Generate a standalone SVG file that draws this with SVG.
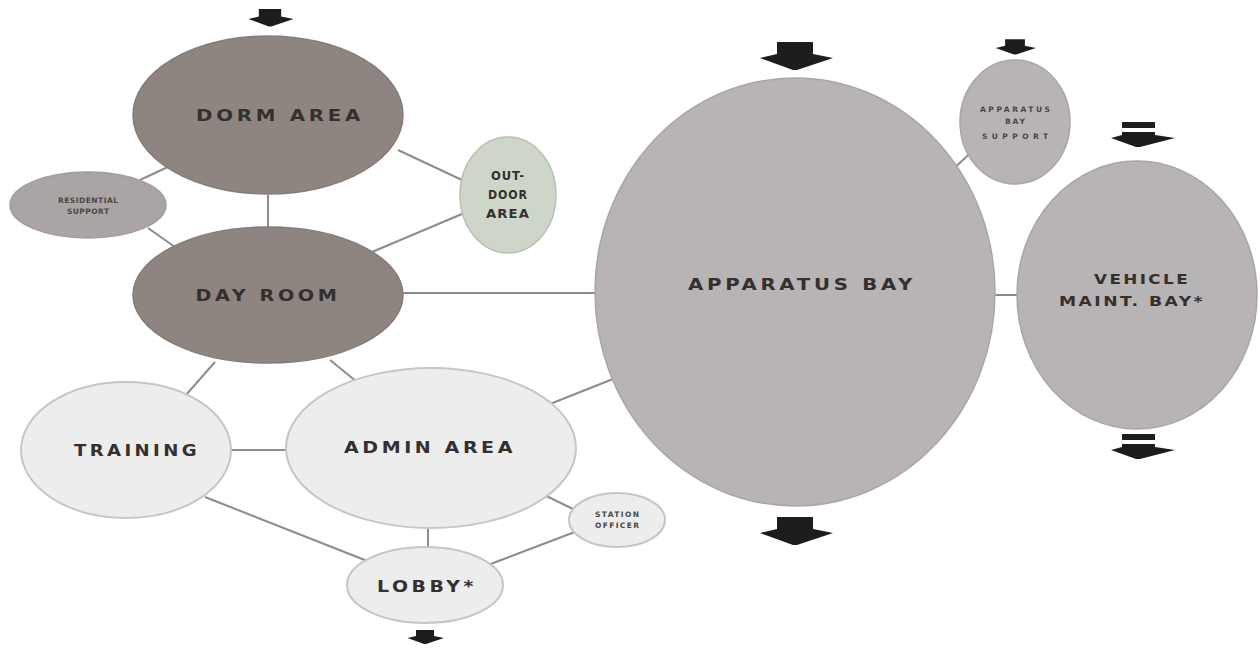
<svg xmlns="http://www.w3.org/2000/svg" width="1260" height="649" viewBox="0 0 1260 649">
<style>
.dark{fill:#8e8580;stroke:#857c77;stroke-width:1.5}
.mid{fill:#aaa4a5;stroke:#a29c9d;stroke-width:1.5}
.gray{fill:#b8b3b4;stroke:#aaa5a6;stroke-width:1.5}
.green{fill:#cdd6c8;stroke:#b8c0b4;stroke-width:1.5}
.light{fill:#ededed;stroke:#c6c6c6;stroke-width:2}
.lbl{font-family:"DejaVu Sans","Liberation Sans",sans-serif;font-weight:bold;font-size:16px;letter-spacing:3px;fill:#34302e;text-anchor:middle}
.sm{font-family:"DejaVu Sans","Liberation Sans",sans-serif;font-weight:bold;font-size:7.5px;fill:#4a4543;text-anchor:middle}
.conn line{stroke:#8f8b8a;stroke-width:2}
.arr{fill:#1e1c1c}
</style>
<defs>
<path id="ah" d="M-18,-16 H18 V-4 L38,0 L2,12 L-2,12 L-35,0 L-18,-4 Z"/>
<g id="ah2"><rect x="-16" y="-18" width="33" height="6"/><path d="M-16,-8 H17 V-5 L37,-2 L2,7 L-2,7 L-27,-2 L-16,-5 Z"/></g>
</defs>
<rect width="1260" height="649" fill="#ffffff"/>
<g class="conn" id="connectors">
<line x1="268" y1="195" x2="268" y2="228"/>
<line x1="140" y1="180" x2="172" y2="165"/>
<line x1="148" y1="228" x2="182" y2="252"/>
<line x1="398" y1="150" x2="462" y2="180"/>
<line x1="372" y1="252" x2="462" y2="214"/>
<line x1="403" y1="293" x2="598" y2="293"/>
<line x1="215" y1="362" x2="185" y2="396"/>
<line x1="330" y1="360" x2="362" y2="386"/>
<line x1="230" y1="450" x2="287" y2="450"/>
<line x1="540" y1="408" x2="618" y2="377"/>
<line x1="538" y1="492" x2="575" y2="510"/>
<line x1="428" y1="528" x2="428" y2="555"/>
<line x1="205" y1="497" x2="380" y2="566"/>
<line x1="580" y1="530" x2="488" y2="565"/>
<line x1="950" y1="172" x2="978" y2="146"/>
<line x1="990" y1="295" x2="1020" y2="295"/>
</g>
<g id="arrows" class="arr">
<use href="#ah" transform="translate(270,19) scale(0.62)"/>
<use href="#ah" transform="translate(795,58)"/>
<use href="#ah" transform="translate(1015,48) scale(0.55)"/>
<use href="#ah" transform="translate(795,533)"/>
<use href="#ah" transform="translate(425,638) scale(0.5)"/>
<use href="#ah2" transform="translate(1138,140)"/>
<use href="#ah2" transform="translate(1138,452)"/>
</g>
<g id="dorm-area"><ellipse class="dark" cx="268" cy="115" rx="135" ry="79"/><text class="lbl" x="280" y="121" textLength="168" lengthAdjust="spacingAndGlyphs">DORM AREA</text></g>
<g id="residential-support"><ellipse class="mid" cx="88" cy="205" rx="78" ry="33"/><text class="sm" x="88" y="203" textLength="60" lengthAdjust="spacing">RESIDENTIAL</text><text class="sm" x="88" y="214" textLength="42" lengthAdjust="spacing">SUPPORT</text></g>
<g id="outdoor-area"><ellipse class="green" cx="508" cy="195" rx="48" ry="58"/><text class="lbl" x="508" y="180" style="font-size:12px;letter-spacing:1px" textLength="34" lengthAdjust="spacingAndGlyphs">OUT-</text><text class="lbl" x="508" y="199" style="font-size:12px;letter-spacing:1px" textLength="40" lengthAdjust="spacingAndGlyphs">DOOR</text><text class="lbl" x="508" y="218" style="font-size:12px;letter-spacing:1px" textLength="44" lengthAdjust="spacingAndGlyphs">AREA</text></g>
<g id="day-room"><ellipse class="dark" cx="268" cy="295" rx="135" ry="68"/><text class="lbl" x="268" y="301" textLength="145" lengthAdjust="spacingAndGlyphs">DAY ROOM</text></g>
<g id="training"><ellipse class="light" cx="126" cy="450" rx="105" ry="68"/><text class="lbl" x="137" y="456" textLength="126" lengthAdjust="spacingAndGlyphs">TRAINING</text></g>
<g id="admin-area"><ellipse class="light" cx="431" cy="448" rx="145" ry="80"/><text class="lbl" x="430" y="453" textLength="172" lengthAdjust="spacingAndGlyphs">ADMIN AREA</text></g>
<g id="station-officer"><ellipse class="light" cx="617" cy="520" rx="48" ry="27"/><text class="sm" x="617" y="517" textLength="44" lengthAdjust="spacing">STATION</text><text class="sm" x="617" y="528" textLength="44" lengthAdjust="spacing">OFFICER</text></g>
<g id="lobby"><ellipse class="light" cx="425" cy="585" rx="78" ry="38"/><text class="lbl" x="427" y="592" textLength="100" lengthAdjust="spacingAndGlyphs">LOBBY*</text></g>
<g id="apparatus-bay"><ellipse class="gray" cx="795" cy="292" rx="200" ry="214"/><text class="lbl" x="802" y="290" textLength="228" lengthAdjust="spacingAndGlyphs">APPARATUS BAY</text></g>
<g id="apparatus-bay-support"><ellipse class="gray" cx="1015" cy="122" rx="55" ry="62"/><text class="sm" x="1015" y="112" textLength="70" lengthAdjust="spacing">APPARATUS</text><text class="sm" x="1015" y="124" textLength="20" lengthAdjust="spacing">BAY</text><text class="sm" x="1015" y="139" textLength="66" lengthAdjust="spacing">SUPPORT</text></g>
<g id="vehicle-maint-bay"><ellipse class="gray" cx="1137" cy="295" rx="120" ry="134"/><text class="lbl" x="1142" y="284" style="font-size:14px;letter-spacing:2px" textLength="96" lengthAdjust="spacingAndGlyphs">VEHICLE</text><text class="lbl" x="1132" y="306" style="font-size:14px;letter-spacing:2px" textLength="146" lengthAdjust="spacingAndGlyphs">MAINT. BAY*</text></g>
</svg>
